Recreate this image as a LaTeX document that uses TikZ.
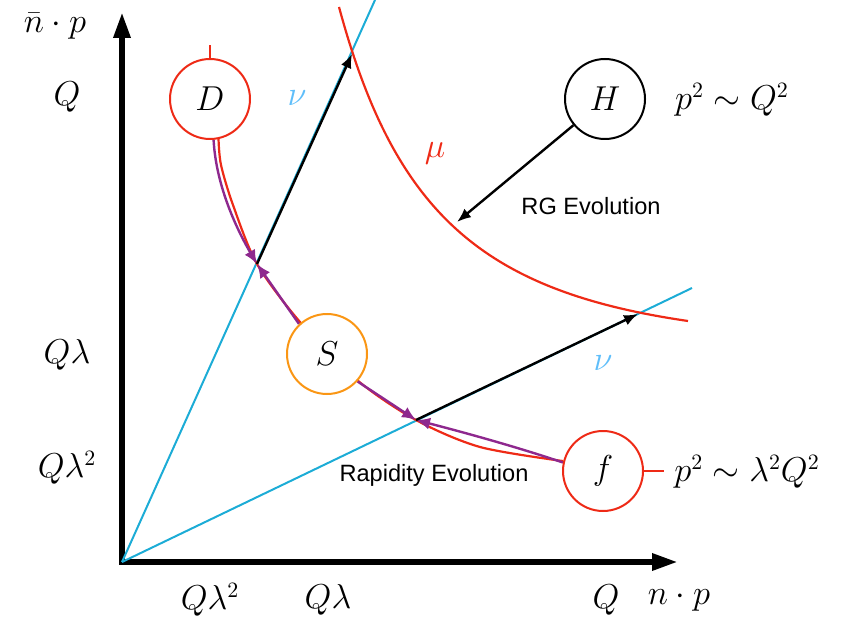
\documentclass[tikz,border=0pt]{standalone}
\usepackage{amsmath}
\usepackage{fontspec}
\newfontfamily\labelfont{Liberation Sans}
\usepackage{tikz}
\usetikzlibrary{arrows.meta,backgrounds,calc}
\definecolor{curvered}{RGB}{238,42,22}
\definecolor{nublue}{RGB}{28,172,214}
\definecolor{nulabel}{RGB}{95,190,250}
\definecolor{flowpurple}{RGB}{142,40,142}
\definecolor{softorange}{RGB}{250,150,20}
\tikzstyle{mode}=[circle, draw, fill=white,% the four regions
inner sep=0pt, minimum size=40pt, line width=1pt, font=\fontsize{16}{19}\selectfont]
\tikzstyle{axis}=[{Triangle[length=13pt,width=8pt]}-{Triangle[length=13pt,width=8pt]}, line width=3pt]
\tikzstyle{ray}=[nublue, line width=1pt]
\tikzstyle{hyper}=[curvered, line width=1.1pt]
\tikzstyle{flow}=[flowpurple, line width=1.2pt, -{Latex[length=7pt,width=6pt]}]
\tikzstyle{jump}=[black, line width=1.2pt, -{Latex[length=7pt,width=5.5pt]}]
\tikzstyle{lab}=[inner sep=1pt, font=\fontsize{16}{19}\selectfont]
\tikzstyle{txt}=[font=\labelfont\fontsize{11.8}{14}\selectfont]

\begin{document}
\begin{tikzpicture}[x=0.5pt,y=-0.5pt]
\useasboundingbox (0,0) rectangle (849,625);
\node[mode,draw=curvered] (D) at (210,99) {$D$};
\node[mode] (H) at (605,99) {$H$};
\node[mode,draw=softorange] (S) at (327,354) {$S$};
\node[mode,draw=curvered] (f) at (603,471) {$f$};
\coordinate (O) at (122,562);
\coordinate (ytip) at (122,12);
\coordinate (xtip) at (678,562);
\coordinate (nu1) at (375,0);
\coordinate (nu2) at (692,288);
\coordinate (X1) at (257,264);
\coordinate (X2) at (416,420);
\coordinate (A1) at (352,54);
\coordinate (A2) at (638,314);
\coordinate (rg) at (457,222);
% axis labels
\node[lab] (ylab) at (55,26) {$\bar n\cdot p$};
\node[lab] (xlab) at (679,600) {$n\cdot p$};
\node[lab] (yq) at (67,97) {$Q$};
\node[lab] (yql) at (67,355) {$Q\lambda$};
\node[lab] (yqll) at (67,468) {$Q\lambda^2$};
\node[lab] (xqll) at (210,600) {$Q\lambda^2$};
\node[lab] (xql) at (328,600) {$Q\lambda$};
\node[lab] (xq) at (606,600) {$Q$};
\node[lab] (hard) at (732,100) {$p^2\sim Q^2$};
\node[lab] (coll) at (747,472) {$p^2\sim \lambda^2Q^2$};
\node[lab,nulabel] (nua) at (297,98) {$\nu$};
\node[lab,nulabel] (nub) at (603,363) {$\nu$};
\node[lab,curvered] (mu) at (435,153) {$\mu$};
\node[txt] (rgtxt) at (591,206) {RG Evolution};
\node[txt] (raptxt) at (434,475) {Rapidity Evolution};
\begin{scope}[on background layer]
\draw[axis] (ytip) -- (O) -- (xtip);
\draw[ray] (O) -- (nu1);
\draw[ray] (O) -- (nu2);
\draw[hyper] (339,7) .. controls (394.5,212.5) and (481.75,291) .. (688,321);
\draw[hyper] plot[smooth] coordinates {(D.-78) (221,165) (233,205) (X1) (300,322) (357,380) (X2) (480,447) (f.166)};
\draw[hyper] (D.north) -- ++(0,-13);
\draw[hyper] (f.east) -- ++(20,0);
\draw[flow] (D.-85) .. controls (216,185) and (236,228) .. (X1);
\draw[flow] (S.133) -- (X1);
\draw[flow] (S.-42) -- (X2);
\draw[flow] (f.168) .. controls (520,448) and (470,434) .. (X2);
\draw[jump] (X1) -- (A1);
\draw[jump] (X2) -- (A2);
\draw[jump] (H) -- (rg);
\end{scope}
\end{tikzpicture}
\end{document}
